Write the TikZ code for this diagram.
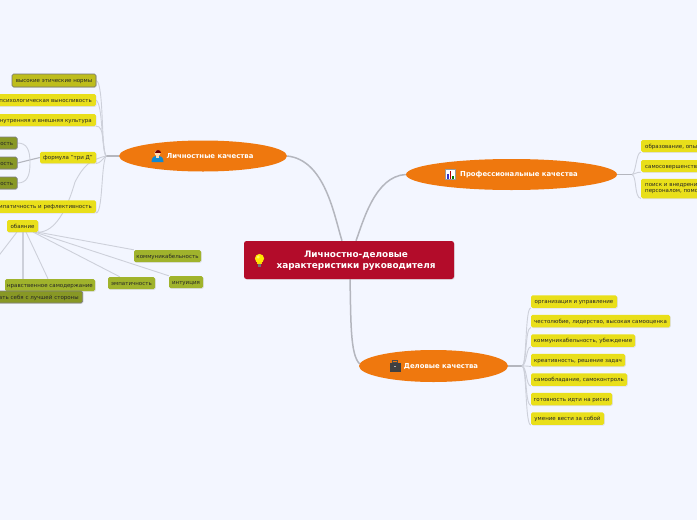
\documentclass[tikz,border=0pt]{standalone}
\usepackage{fontspec}
\setmainfont{DejaVu Sans}
\usetikzlibrary{shadows,calc}
\pgfdeclarelayer{backdrop}
\pgfsetlayers{backdrop,main}
\definecolor{bgc}{HTML}{F3F6FF}
\definecolor{orangec}{HTML}{EF780E}
\definecolor{redc}{HTML}{B30C2A}
\definecolor{yel}{HTML}{E9DF1A}
\definecolor{olv}{HTML}{A0B32C}
\definecolor{linec}{HTML}{CDD0DA}
\definecolor{trunkc}{HTML}{B4B6BE}
\tikzset{
  x=1pt,y=-1pt,
  softshadow/.style={drop shadow={shadow xshift=.8pt,shadow yshift=-.8pt,fill=black!25,opacity=.35}},
  leafbase/.style={rounded corners=1.5pt,inner sep=0pt,font=\fontsize{5.5}{6.8}\selectfont,text=black!85,softshadow},
  leaf/.style={leafbase,text height=5pt,text depth=.6pt},
  yleaf/.style={leaf,fill=yel},
  gleaf/.style={leaf,fill=olv},
  yedged/.style={leaf,fill=yel!70!olv!90!black,draw=black!55,line width=.7pt},
  gedged/.style={leaf,fill=olv!85!black,draw=black!50,line width=.7pt},
  mainlbl/.style={font=\fontsize{6.9}{8}\selectfont\bfseries,text=white,text height=5pt,text depth=1.4pt},
  conn/.style={draw=linec,line width=.9pt},
  trunk/.style={draw=trunkc,line width=1.6pt},
  central/.style={draw=trunkc,line width=1.5pt},
}
\begin{document}
\begin{tikzpicture}
\useasboundingbox (0,0) rectangle (697,520);
\begin{pgfonlayer}{backdrop}
\fill[bgc] (0,0) rectangle (697,520);
\end{pgfonlayer}
\clip (0,0) rectangle (697,520);

% central
\node[fill=redc,rounded corners=2.5pt,minimum width=210pt,minimum height=38pt,inner sep=0pt,softshadow] (c) at (349,260) {};
\node[font=\fontsize{8.9}{11}\selectfont\bfseries,text=white,align=center] (ctext) at (356,261) {Личностно-деловые\\характеристики руководителя};

% branches
\fill[orangec] (203,156) ellipse [x radius=84,y radius=15.5];
\node[minimum width=168pt,minimum height=31pt,inner sep=0pt] (bl) at (203,156) {};
\fill[orangec] (511.5,174.5) ellipse [x radius=105.5,y radius=15.5];
\node[minimum width=211pt,minimum height=31pt,inner sep=0pt] (bp) at (511.5,174.5) {};
\fill[orangec] (433.5,366) ellipse [x radius=74.5,y radius=16];
\node[minimum width=149pt,minimum height=32pt,inner sep=0pt] (bd) at (433.5,366) {};
\node[mainlbl] (tl) at (210,157) {Личностные качества};
\node[mainlbl] (tp) at (519,175) {Профессиональные качества};
\node[mainlbl] (td) at (441,367) {Деловые качества};

% left leaves
\node[yedged,minimum width=84pt,minimum height=13pt] (l1) at (54,80.5) {высокие этические нормы};
\node[yleaf,anchor=east,minimum height=12pt,text width=106pt,align=right] (l2) at (96,100) {психологическая выносливость\hspace*{4pt}};
\node[yleaf,anchor=east,minimum height=12pt,text width=106pt,align=right] (l3) at (96,120) {внутренняя и внешняя культура\hspace*{4pt}};
\node[yleaf,minimum width=56pt,minimum height=11.5pt] (l4) at (68,157.5) {формула "три Д"};
\node[yleaf,anchor=east,minimum height=12.5pt,text width=110pt,align=right] (l5) at (96,206.5) {эмпатичность и рефлективность\hspace*{4pt}};
\node[yleaf,minimum width=31pt,minimum height=12pt] (l6) at (22.5,226) {обаяние};

% three D
\node[gedged,anchor=east,minimum height=12pt,text width=40pt,align=right] (d1) at (17.5,143) {ость\hspace*{4pt}};
\node[gedged,anchor=east,minimum height=12pt,text width=40pt,align=right] (d2) at (17.5,163) {ость\hspace*{4pt}};
\node[gedged,anchor=east,minimum height=12pt,text width=40pt,align=right] (d3) at (17.5,183) {ость\hspace*{4pt}};

% charm leaves
\node[gleaf,minimum width=67pt,minimum height=12pt] (o1) at (167.5,256) {коммуникабельность};
\node[gleaf,minimum width=34pt,minimum height=12pt] (o2) at (186,282) {интуиция};
\node[gleaf,minimum width=47pt,minimum height=12pt] (o3) at (131.5,283) {эмпатичность};
\node[gleaf,minimum width=90pt,minimum height=12pt] (o4) at (50,285) {нравственное самодержание};
\node[gedged,anchor=east,minimum height=12pt,text width=110pt,align=right] (o5) at (83,297) {подать себя с лучшей стороны\hspace*{4pt}};
\coordinate (o6) at (-3,258);

% right leaves
\node[yleaf,anchor=west,minimum height=12pt,text width=80pt] (r1) at (641,146) {\hspace*{4pt}образование, опыт};
\node[yleaf,anchor=west,minimum height=12pt,text width=90pt] (r2) at (641,166) {\hspace*{4pt}самосовершенствование};
\node[leafbase,fill=yel,anchor=west,minimum height=19.5pt,text width=90pt,align=left] (r3) at (641,188.5) {\hspace*{4pt}поиск и внедрение\\\hspace*{4pt}персоналом, помощь};

% business leaves
\node[yleaf,minimum width=86pt,minimum height=12.5pt] (b1) at (574,301.5) {организация и управление};
\node[yleaf,minimum width=139pt,minimum height=12.5pt] (b2) at (600.5,321) {честолюбие, лидерство, высокая самооценка};
\node[yleaf,minimum width=104pt,minimum height=12.5pt] (b3) at (583,340.5) {коммуникабельность, убеждение};
\node[yleaf,minimum width=94pt,minimum height=12.5pt] (b4) at (578,360) {креативность, решение задач};
\node[yleaf,minimum width=96pt,minimum height=12.5pt] (b5) at (579,379.5) {самообладание, самоконтроль};
\node[yleaf,minimum width=81pt,minimum height=12.5pt] (b6) at (571.5,399) {готовность идти на риски};
\node[yleaf,minimum width=73pt,minimum height=12.5pt] (b7) at (567.5,418.5) {умение вести за собой};

% connectors behind nodes
\begin{pgfonlayer}{backdrop}
\coordinate (jl) at (106,156);
\coordinate (jp) at (632,174.5);
\coordinate (jd) at (522,366);
\draw[trunk] (bl.west) -- (jl);
\draw[trunk] (bp.east) -- (jp);
\draw[trunk] (bd.east) -- (jd);
\draw[conn] (jl) .. controls (101,150) and (104,84) .. (l1.east);
\draw[conn] (jl) .. controls (101,148) and (103,104) .. (l2.east);
\draw[conn] (jl) .. controls (102,148) and (105,125) .. (l3.south east);
\draw[conn] (jl) .. controls (102,160) and (100,163) .. (l4.south east);
\draw[conn] (jl) .. controls (101,165) and (103,213) .. (l5.south east);
\draw[conn] (jl) .. controls (90,160) and (84,165) .. (75,182) .. controls (67,210) and (55,232) .. (l6.south east);
\draw[trunk,line width=1.1pt] (l4.west) -- (d2.east);
\draw[conn] (d1.east) .. controls (27,143) and (30,150) .. (30,163) .. controls (30,176) and (27,183) .. (d3.east);
\draw[conn] (l6.south east) -- (o1.north west);
\draw[conn] (l6.south east) ++(-3,0) -- ($(o2.north west)+(0,0)$);
\draw[conn] (33,232) -- ($(o3.north west)+(12,0)$);
\draw[conn] (26,232) -- ($(o4.north)+(-2,0)$);
\draw[conn,line width=1.3pt] (23,232) -- (23,291);
\draw[conn] (17,232) -- (o6);
\draw[conn] (jp) .. controls (636,174) and (636,152) .. (r1.south west);
\draw[conn] (jp) .. controls (636,174) and (636,172) .. (r2.south west);
\draw[conn] (jp) .. controls (637,176) and (634,198) .. (r3.south west);
\draw[conn] (jd) .. controls (527,365) and (525,308) .. (b1.south west);
\draw[conn] (jd) .. controls (527,365) and (525,328) .. (b2.south west);
\draw[conn] (jd) .. controls (527,365) and (526,347) .. (b3.south west);
\draw[conn] (jd) .. controls (526,366) and (528,366) .. (b4.south west);
\draw[conn] (jd) .. controls (527,367) and (526,386) .. (b5.south west);
\draw[conn] (jd) .. controls (527,367) and (525,405) .. (b6.south west);
\draw[conn] (jd) .. controls (527,367) and (525,425) .. (b7.south west);
\draw[central] ($(c.north)+(-7,0)$) .. controls (334,215) and (325,160) .. (bl.east);
\draw[central] ($(c.north)+(7,0)$) .. controls (363,222) and (375,176) .. (bp.west);
\draw[central] (c.south) ++(1,0) .. controls (351,320) and (350,355) .. ($(bd.west)+(1,-2)$);
\end{pgfonlayer}

% bulb
\fill[yellow!90!orange] (259.5,258.5) circle (4.6);
\fill[yellow!60!white] (258.2,257) circle (1.7);
\fill[yellow!75!orange] (257.3,262) rectangle (261.7,264);
\fill[black!55] (257.8,264) rectangle (261.2,266.5);
% person
\fill[cyan!70!blue] (151.5,162) .. controls (151.5,157) and (154,156) .. (157.5,156) .. controls (161,156) and (163.5,157) .. (163.5,162) -- cycle;
\fill[orange!30!white] (155.8,155) rectangle (159.2,158);
\fill[orange!30!white] (157.5,153) circle (3);
\fill[red!45!black] (154.5,153) .. controls (154.5,149) and (160.5,149) .. (160.5,153) -- cycle;
% chart
\fill[white] (445.5,169.5) rectangle (455,179.5);
\draw[black!40,line width=.4pt] (445.5,169.5) rectangle (455,179.5);
\fill[blue!60!gray] (447,174) rectangle (448.5,179);
\fill[red!70!black] (449.5,171) rectangle (451,179);
\fill[green!50!black] (452,175.5) rectangle (453.5,179);
% briefcase
\draw[black!70,line width=.7pt] (392.5,362.5) rectangle (397.5,360.5);
\fill[black!75] (389.5,362.5) rectangle (400.5,371.5);
\fill[white!70!black] (394,366) rectangle (396,367);
\end{tikzpicture}
\end{document}
